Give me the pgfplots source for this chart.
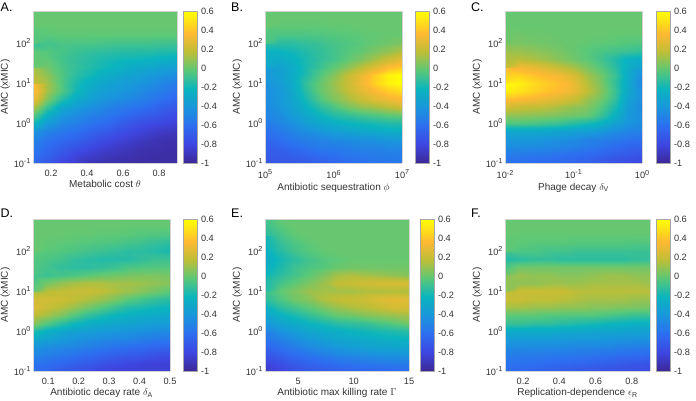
\documentclass[border=0pt]{standalone}
\usepackage{pgfplots}
\usepackage{pgfplotstable}
\usepackage{fontspec}
\setmainfont{Liberation Sans}
\pgfplotsset{compat=1.18}
\newcommand\tp[1]{10\raisebox{0.42em}{\fontsize{7.2}{8}\selectfont #1}}
\definecolor{tk}{gray}{0.2}
\pgfplotsset{
 colormap={par}{rgb255=(60,40,150) rgb255=(62,70,225) rgb255=(45,110,240) rgb255=(25,150,220) rgb255=(10,180,190) rgb255=(90,200,120) rgb255=(190,190,55) rgb255=(255,185,50) rgb255=(255,255,5)},
 every axis/.append style={
  scale only axis,anchor=south west,height=152pt,view={0}{90},enlargelimits=false,
  yminorticks=false,xminorticks=false,
  point meta min=-1,point meta max=0.56,
  tick style={draw=none},
  axis line style={draw=gray!35,line width=0.3pt},
  ticklabel style={font=\fontsize{9.2}{10}\selectfont,text=tk},
  label style={font=\fontsize{10}{12}\selectfont,text=tk},
  ylabel={AMC (xMIC)},
  ylabel style={yshift=-3pt},
  xlabel style={yshift=3pt},
  xticklabel style={yshift=-3.5pt},
  xtick pos=bottom,ytick pos=left,
  yticklabel style={xshift=1pt},
 },
}
\newcommand\cbar[2]{%
\begin{axis}[at={(#1pt,#2pt)},width=14.5pt,xmin=0,xmax=1,ymin=-1,ymax=0.6,
 ytick={-1,-0.8,-0.6,-0.4,-0.2,0,0.2,0.4,0.6},yticklabels={-1,-0.8,-0.6,-0.4,-0.2,0,0.2,0.4,0.6},
 ytick pos=right,yticklabel pos=right,ylabel={},xlabel={},xtick=\empty,axis on top,
 axis line style={draw=gray!70,line width=0.5pt},yticklabel style={xshift=-1pt}]
\addplot3[surf,shader=interp,mesh/cols=2,point meta=y] coordinates {
(0,-1,0)(1,-1,0)(0,-.8,0)(1,-.8,0)(0,-.6,0)(1,-.6,0)(0,-.4,0)(1,-.4,0)(0,-.2,0)(1,-.2,0)
(0,0,0)(1,0,0)(0,.2,0)(1,.2,0)(0,.4,0)(1,.4,0)(0,.6,0)(1,.6,0)};
\end{axis}}
\pgfplotstableread[row sep=\\,header=false]{
-.62\\-.72\\-.82\\-.86\\-.92\\-.94\\-.95\\-.96\\-.96\\-.96\\-.96\\
-.6\\-.66\\-.74\\-.82\\-.86\\-.9\\-.92\\-.94\\-.96\\-.96\\-.96\\
-.55\\-.62\\-.68\\-.74\\-.8\\-.84\\-.88\\-.91\\-.93\\-.95\\-.96\\
-.5\\-.58\\-.62\\-.66\\-.72\\-.78\\-.82\\-.86\\-.9\\-.93\\-.94\\
-.42\\-.5\\-.56\\-.6\\-.66\\-.7\\-.76\\-.8\\-.84\\-.88\\-.9\\
-.2\\-.38\\-.48\\-.52\\-.58\\-.62\\-.68\\-.74\\-.78\\-.8\\-.84\\
-.02\\-.25\\-.4\\-.46\\-.52\\-.56\\-.6\\-.66\\-.7\\-.74\\-.78\\
.15\\-.1\\-.3\\-.38\\-.44\\-.5\\-.54\\-.58\\-.62\\-.68\\-.72\\
.32\\.05\\-.15\\-.28\\-.36\\-.42\\-.46\\-.5\\-.55\\-.6\\-.66\\
.4\\.12\\-.05\\-.2\\-.3\\-.36\\-.4\\-.44\\-.5\\-.54\\-.6\\
.38\\.12\\-.05\\-.18\\-.26\\-.32\\-.36\\-.4\\-.44\\-.5\\-.54\\
.2\\.08\\-.05\\-.14\\-.2\\-.26\\-.3\\-.34\\-.38\\-.42\\-.46\\
.12\\.02\\-.06\\-.12\\-.16\\-.2\\-.24\\-.28\\-.3\\-.34\\-.36\\
0\\-.02\\-.08\\-.12\\-.15\\-.18\\-.2\\-.21\\-.22\\-.24\\-.26\\
-.02\\-.04\\-.07\\-.1\\-.12\\-.13\\-.14\\-.15\\-.15\\-.16\\-.16\\
-.12\\-.08\\-.06\\-.06\\-.06\\-.07\\-.08\\-.08\\-.08\\-.09\\-.09\\
-.05\\-.03\\-.02\\-.02\\-.02\\-.02\\-.02\\-.02\\-.02\\-.02\\-.02\\
-.02\\-.01\\0\\0\\0\\0\\0\\0\\0\\0\\0\\
0\\0\\0\\0\\0\\0\\0\\0\\0\\0\\0\\
0\\0\\0\\0\\0\\0\\0\\0\\0\\0\\0\\
}\tA
\pgfplotstableread[row sep=\\,header=false]{
-.72\\-.72\\-.72\\-.7\\-.68\\-.66\\-.62\\-.6\\-.58\\-.57\\-.56\\
-.7\\-.7\\-.68\\-.66\\-.62\\-.6\\-.58\\-.56\\-.55\\-.54\\-.54\\
-.68\\-.66\\-.62\\-.58\\-.55\\-.54\\-.52\\-.5\\-.5\\-.48\\-.48\\
-.64\\-.6\\-.56\\-.52\\-.5\\-.47\\-.45\\-.44\\-.42\\-.4\\-.38\\
-.6\\-.56\\-.5\\-.45\\-.4\\-.36\\-.33\\-.3\\-.28\\-.26\\-.25\\
-.54\\-.5\\-.44\\-.36\\-.3\\-.26\\-.22\\-.2\\-.18\\-.16\\-.15\\
-.5\\-.46\\-.38\\-.3\\-.22\\-.15\\-.12\\-.08\\-.05\\-.02\\0\\
-.48\\-.42\\-.34\\-.24\\-.14\\-.06\\.02\\.08\\.12\\.16\\.22\\
-.46\\-.4\\-.32\\-.18\\-.05\\.05\\.12\\.2\\.27\\.32\\.36\\
-.46\\-.4\\-.3\\-.14\\0\\.08\\.18\\.28\\.36\\.42\\.46\\
-.44\\-.38\\-.28\\-.12\\0\\.1\\.2\\.32\\.44\\.52\\.58\\
-.42\\-.36\\-.28\\-.16\\-.04\\.06\\.18\\.3\\.42\\.52\\.58\\
-.38\\-.34\\-.28\\-.18\\-.1\\-.02\\.06\\.16\\.26\\.36\\.42\\
-.3\\-.28\\-.24\\-.18\\-.12\\-.08\\-.02\\.04\\.12\\.2\\.28\\
-.24\\-.22\\-.2\\-.16\\-.12\\-.08\\-.04\\-.01\\.04\\.08\\.14\\
-.14\\-.14\\-.14\\-.12\\-.1\\-.07\\-.05\\-.03\\0\\.02\\.04\\
-.06\\-.06\\-.06\\-.06\\-.05\\-.04\\-.03\\-.02\\-.01\\0\\0\\
-.02\\-.02\\-.02\\-.02\\-.02\\-.01\\-.01\\0\\0\\0\\0\\
0\\0\\0\\0\\0\\0\\0\\0\\0\\0\\0\\
0\\0\\0\\0\\0\\0\\0\\0\\0\\0\\0\\
}\tB
\pgfplotstableread[row sep=\\,header=false]{
-.58\\-.6\\-.62\\-.63\\-.64\\-.66\\-.68\\-.72\\-.76\\-.78\\-.8\\
-.55\\-.56\\-.57\\-.58\\-.6\\-.62\\-.64\\-.66\\-.7\\-.72\\-.74\\
-.46\\-.46\\-.47\\-.48\\-.5\\-.52\\-.55\\-.58\\-.62\\-.66\\-.68\\
-.4\\-.4\\-.4\\-.42\\-.44\\-.46\\-.5\\-.52\\-.55\\-.58\\-.6\\
-.3\\-.3\\-.3\\-.3\\-.32\\-.34\\-.36\\-.4\\-.46\\-.5\\-.52\\
-.05\\-.05\\-.06\\-.08\\-.1\\-.14\\-.18\\-.24\\-.34\\-.42\\-.46\\
.08\\.08\\.07\\.06\\.04\\.02\\0\\-.1\\-.24\\-.4\\-.46\\
.22\\.2\\.18\\.16\\.12\\.08\\.05\\-.04\\-.18\\-.38\\-.48\\
.38\\.36\\.34\\.3\\.26\\.2\\.1\\.02\\-.12\\-.34\\-.46\\
.52\\.48\\.44\\.4\\.36\\.3\\.18\\.06\\-.1\\-.3\\-.46\\
.58\\.52\\.46\\.42\\.38\\.3\\.16\\.04\\-.12\\-.3\\-.5\\
.5\\.44\\.4\\.36\\.32\\.24\\.12\\.02\\-.1\\-.28\\-.46\\
.36\\.32\\.3\\.24\\.18\\.12\\.04\\-.04\\-.14\\-.26\\-.34\\
.18\\.16\\.14\\.1\\.06\\.02\\-.02\\-.08\\-.16\\-.24\\-.26\\
.1\\.1\\.08\\.06\\.03\\0\\-.03\\-.06\\-.08\\-.1\\-.12\\
.04\\.04\\.03\\.02\\.01\\0\\-.01\\-.02\\-.03\\-.04\\-.05\\
.02\\.02\\.01\\.01\\0\\0\\0\\0\\-.01\\-.01\\-.01\\
0\\0\\0\\0\\0\\0\\0\\0\\0\\0\\0\\
0\\0\\0\\0\\0\\0\\0\\0\\0\\0\\0\\
0\\0\\0\\0\\0\\0\\0\\0\\0\\0\\0\\
}\tC
\pgfplotstableread[row sep=\\,header=false]{
-.62\\-.65\\-.7\\-.74\\-.78\\-.82\\-.84\\-.84\\-.84\\-.84\\-.84\\
-.58\\-.6\\-.64\\-.67\\-.7\\-.74\\-.77\\-.8\\-.82\\-.83\\-.84\\
-.5\\-.53\\-.56\\-.59\\-.62\\-.65\\-.68\\-.7\\-.72\\-.75\\-.77\\
-.42\\-.46\\-.48\\-.5\\-.53\\-.56\\-.59\\-.61\\-.63\\-.65\\-.66\\
-.3\\-.34\\-.38\\-.42\\-.45\\-.47\\-.49\\-.5\\-.53\\-.55\\-.57\\
-.16\\-.25\\-.3\\-.34\\-.36\\-.38\\-.4\\-.42\\-.44\\-.46\\-.48\\
.08\\-.04\\-.12\\-.2\\-.25\\-.28\\-.3\\-.32\\-.34\\-.36\\-.38\\
.18\\.12\\.05\\-.04\\-.12\\-.17\\-.22\\-.25\\-.27\\-.29\\-.3\\
.26\\.2\\.16\\.1\\.03\\-.03\\-.1\\-.16\\-.18\\-.2\\-.22\\
.24\\.23\\.22\\.18\\.14\\.1\\.04\\-.03\\-.08\\-.12\\-.14\\
.12\\.16\\.18\\.2\\.2\\.18\\.14\\.1\\.06\\.02\\-.02\\
-.02\\.03\\.08\\.12\\.14\\.14\\.12\\.12\\.1\\.08\\.06\\
-.1\\-.1\\-.08\\-.06\\-.03\\0\\.02\\.03\\.04\\.04\\.03\\
-.06\\-.08\\-.12\\-.14\\-.14\\-.12\\-.1\\-.06\\-.05\\-.04\\-.04\\
-.04\\-.06\\-.08\\-.12\\-.14\\-.16\\-.16\\-.15\\-.12\\-.1\\-.1\\
-.02\\-.03\\-.04\\-.06\\-.08\\-.1\\-.12\\-.14\\-.14\\-.16\\-.18\\
0\\-.01\\-.02\\-.03\\-.04\\-.05\\-.06\\-.08\\-.1\\-.12\\-.14\\
0\\0\\0\\-.01\\-.01\\-.02\\-.02\\-.03\\-.04\\-.05\\-.06\\
0\\0\\0\\0\\0\\0\\0\\-.01\\-.01\\-.01\\-.01\\
0\\0\\0\\0\\0\\0\\0\\0\\0\\0\\0\\
}\tD
\pgfplotstableread[row sep=\\,header=false]{
-.88\\-.82\\-.76\\-.72\\-.7\\-.68\\-.66\\-.65\\-.64\\-.63\\-.62\\
-.82\\-.76\\-.7\\-.66\\-.63\\-.6\\-.58\\-.56\\-.55\\-.54\\-.54\\
-.74\\-.68\\-.62\\-.58\\-.54\\-.5\\-.48\\-.46\\-.44\\-.43\\-.42\\
-.66\\-.6\\-.54\\-.48\\-.44\\-.4\\-.37\\-.34\\-.33\\-.32\\-.32\\
-.58\\-.52\\-.46\\-.4\\-.36\\-.32\\-.3\\-.28\\-.26\\-.24\\-.22\\
-.52\\-.44\\-.36\\-.32\\-.28\\-.25\\-.22\\-.2\\-.18\\-.16\\-.14\\
-.4\\-.34\\-.28\\-.22\\-.18\\-.14\\-.12\\-.1\\-.06\\-.02\\.03\\
-.32\\-.24\\-.18\\-.12\\-.06\\0\\.02\\.06\\.08\\.1\\.12\\
-.24\\-.14\\-.08\\-.02\\.04\\.1\\.14\\.16\\.2\\.24\\.24\\
-.14\\-.06\\.02\\.06\\.14\\.18\\.2\\.22\\.26\\.28\\.26\\
-.1\\-.02\\.04\\.1\\.12\\.12\\.12\\.14\\.14\\.15\\.14\\
-.16\\-.08\\-.02\\.04\\.1\\.18\\.2\\.22\\.24\\.24\\.24\\
-.2\\-.14\\-.08\\-.02\\.04\\.12\\.14\\.12\\.1\\.08\\.06\\
-.22\\-.18\\-.1\\-.06\\-.04\\0\\.02\\.02\\.02\\.02\\.02\\
-.28\\-.2\\-.14\\-.08\\-.04\\-.02\\0\\0\\0\\0\\0\\
-.24\\-.16\\-.08\\-.04\\-.01\\0\\0\\0\\0\\0\\0\\
-.24\\-.12\\-.06\\-.02\\0\\0\\0\\0\\0\\0\\0\\
-.2\\-.08\\-.02\\0\\0\\0\\0\\0\\0\\0\\0\\
-.14\\-.04\\0\\0\\0\\0\\0\\0\\0\\0\\0\\
-.08\\-.01\\0\\0\\0\\0\\0\\0\\0\\0\\0\\
}\tE
\pgfplotstableread[row sep=\\,header=false]{
-.62\\-.64\\-.66\\-.68\\-.7\\-.72\\-.74\\-.75\\-.76\\-.77\\-.78\\
-.58\\-.59\\-.6\\-.62\\-.63\\-.64\\-.66\\-.68\\-.7\\-.72\\-.74\\
-.54\\-.55\\-.55\\-.56\\-.56\\-.57\\-.58\\-.6\\-.61\\-.62\\-.64\\
-.46\\-.46\\-.47\\-.48\\-.48\\-.49\\-.5\\-.5\\-.52\\-.53\\-.54\\
-.38\\-.38\\-.38\\-.38\\-.39\\-.4\\-.4\\-.41\\-.42\\-.43\\-.44\\
-.28\\-.28\\-.28\\-.28\\-.3\\-.3\\-.31\\-.32\\-.33\\-.33\\-.34\\
-.1\\-.1\\-.12\\-.12\\-.14\\-.16\\-.18\\-.2\\-.22\\-.24\\-.24\\
-.02\\-.02\\-.02\\-.04\\-.04\\-.04\\-.04\\-.06\\-.08\\-.1\\-.1\\
.12\\.12\\.1\\.1\\.08\\.08\\.06\\.06\\.05\\.04\\.03\\
.2\\.2\\.18\\.18\\.16\\.14\\.12\\.12\\.12\\.1\\.1\\
.18\\.2\\.2\\.2\\.2\\.16\\.16\\.16\\.16\\.16\\.16\\
.08\\.08\\.08\\.1\\.1\\.1\\.12\\.12\\.12\\.12\\.1\\
.08\\.1\\.08\\.08\\.06\\.06\\.08\\.1\\.1\\.08\\.08\\
.02\\.02\\.02\\.02\\.02\\.02\\.02\\.02\\.02\\.02\\.02\\
-.16\\-.14\\-.12\\-.12\\-.14\\-.14\\-.14\\-.14\\-.14\\-.12\\-.12\\
-.08\\-.06\\-.06\\-.08\\-.08\\-.1\\-.1\\-.1\\-.1\\-.1\\-.1\\
-.02\\-.02\\-.03\\-.03\\-.03\\-.04\\-.04\\-.04\\-.04\\-.05\\-.05\\
-.01\\-.01\\-.01\\-.01\\-.01\\-.01\\-.01\\-.01\\-.01\\-.01\\-.01\\
0\\0\\0\\0\\0\\0\\0\\0\\0\\0\\0\\
0\\0\\0\\0\\0\\0\\0\\0\\0\\0\\0\\
}\tF
\newcommand\yy{10^(-1+0.2*floor(\coordindex/11))}
\begin{document}
\begin{tikzpicture}
\useasboundingbox (0,0) rectangle (696pt,401pt);
% A
\begin{axis}[ymode=log,ymin=0.1,ymax=631,ytick={0.1,1,10,100},yticklabels={\tp{-1},\tp{0},\tp{1},\tp{2}},at={(33pt,238pt)},width=144pt,xmin=0.1,xmax=0.9,xtick={0.2,0.4,0.6,0.8},xticklabels={0.2,0.4,0.6,0.8},xlabel={Metabolic cost $\theta$}]
\addplot3[surf,shader=interp,mesh/cols=11] table[x index=0,y index=0,x expr={0.1+0.08*mod(\coordindex,11)},y expr={\yy},z index=0]{\tA};
\end{axis}
\cbar{183}{238}
% B
\begin{axis}[ymode=log,ymin=0.1,ymax=631,ytick={0.1,1,10,100},yticklabels={\tp{-1},\tp{0},\tp{1},\tp{2}},at={(265pt,238pt)},width=137pt,xmode=log,xmin=1e5,xmax=1e7,xtick={1e5,1e6,1e7},xticklabels={\tp{5},\tp{6},\tp{7}},xlabel={Antibiotic sequestration $\phi$}]
\addplot3[surf,shader=interp,mesh/cols=11] table[x index=0,y index=0,x expr={10^(5+0.2*mod(\coordindex,11))},y expr={\yy},z index=0]{\tB};
\end{axis}
\cbar{415}{238}
% C
\begin{axis}[ymode=log,ymin=0.1,ymax=631,ytick={0.1,1,10,100},yticklabels={\tp{-1},\tp{0},\tp{1},\tp{2}},at={(505pt,238pt)},width=137pt,xmode=log,xmin=1e-2,xmax=1,xtick={1e-2,1e-1,1},xticklabels={\tp{-2},\tp{-1},\tp{0}},xlabel={Phage decay $\delta_{\mbox{\fontsize{7}{8}\selectfont V}}$}]
\addplot3[surf,shader=interp,mesh/cols=11] table[x index=0,y index=0,x expr={10^(-2+0.2*mod(\coordindex,11))},y expr={\yy},z index=0]{\tC};
\end{axis}
\cbar{656}{238}
% D
\begin{axis}[ymode=log,ymin=0.1,ymax=631,ytick={0.1,1,10,100},yticklabels={\tp{-1},\tp{0},\tp{1},\tp{2}},at={(33pt,30pt)},width=137pt,xmin=0.05,xmax=0.5,xtick={0.1,0.2,0.3,0.4,0.5},xticklabels={0.1,0.2,0.3,0.4,0.5},xlabel={Antibiotic decay rate $\delta_{\mbox{\fontsize{7}{8}\selectfont A}}$}]
\addplot3[surf,shader=interp,mesh/cols=11] table[x index=0,y index=0,x expr={0.05+0.045*mod(\coordindex,11)},y expr={\yy},z index=0]{\tD};
\end{axis}
\cbar{183}{30}
% E
\begin{axis}[ymode=log,ymin=0.1,ymax=631,ytick={0.1,1,10,100},yticklabels={\tp{-1},\tp{0},\tp{1},\tp{2}},at={(265pt,30pt)},width=144pt,xmin=2,xmax=15,xtick={5,10,15},xticklabels={5,10,15},xlabel={Antibiotic max killing rate $\Gamma$}]
\addplot3[surf,shader=interp,mesh/cols=11] table[x index=0,y index=0,x expr={2+1.3*mod(\coordindex,11)},y expr={\yy},z index=0]{\tE};
\end{axis}
\cbar{420}{30}
% F
\begin{axis}[ymode=log,ymin=0.1,ymax=631,ytick={0.1,1,10,100},yticklabels={\tp{-1},\tp{0},\tp{1},\tp{2}},at={(505pt,30pt)},width=145pt,xmin=0.1,xmax=0.9,xtick={0.2,0.4,0.6,0.8},xticklabels={0.2,0.4,0.6,0.8},xlabel={Replication-dependence $\epsilon_{\mbox{\fontsize{7}{8}\selectfont R}}$}]
\addplot3[surf,shader=interp,mesh/cols=11] table[x index=0,y index=0,x expr={0.1+0.08*mod(\coordindex,11)},y expr={\yy},z index=0]{\tF};
\end{axis}
\cbar{656}{30}
\node[font=\fontsize{12.5}{14}\selectfont,anchor=west,inner sep=0pt] at (0.5pt,394pt) {A.};
\node[font=\fontsize{12.5}{14}\selectfont,anchor=west,inner sep=0pt] at (231pt,394pt) {B.};
\node[font=\fontsize{12.5}{14}\selectfont,anchor=west,inner sep=0pt] at (471pt,394pt) {C.};
\node[font=\fontsize{12.5}{14}\selectfont,anchor=west,inner sep=0pt] at (0.5pt,188pt) {D.};
\node[font=\fontsize{12.5}{14}\selectfont,anchor=west,inner sep=0pt] at (231pt,188pt) {E.};
\node[font=\fontsize{12.5}{14}\selectfont,anchor=west,inner sep=0pt] at (471pt,188pt) {F.};
\end{tikzpicture}
\end{document}
